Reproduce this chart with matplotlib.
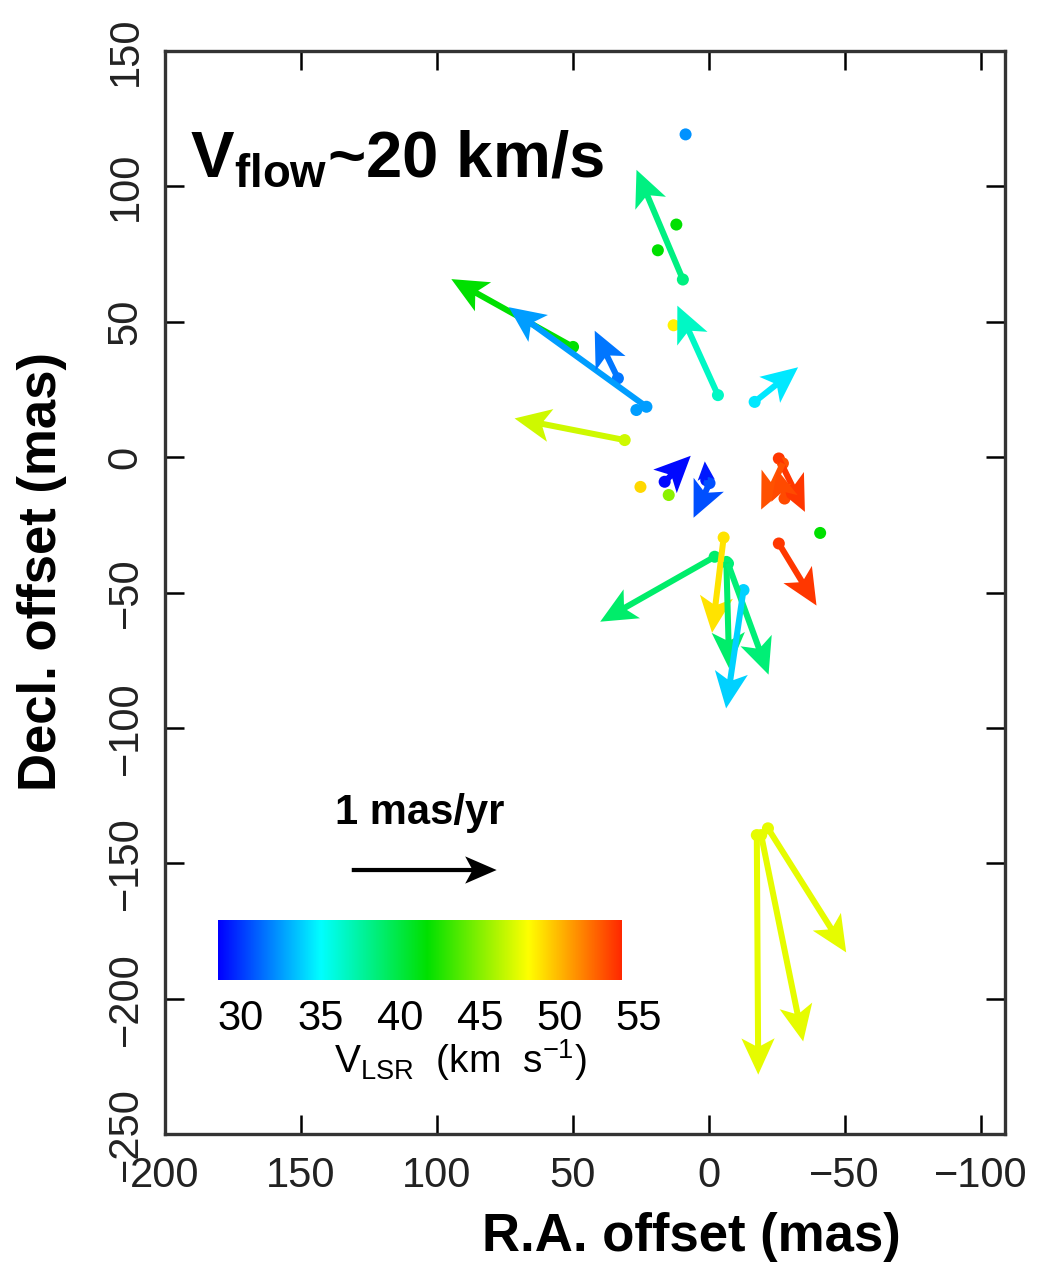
import matplotlib
matplotlib.use('Agg')
import matplotlib.pyplot as plt
import numpy as np
from matplotlib.colors import LinearSegmentedColormap, Normalize
from matplotlib import font_manager

# fonts: narrow face for the axes if it is there
names = {f.name for f in font_manager.fontManager.ttflist}
narrow = 'Liberation Sans Narrow' if 'Liberation Sans Narrow' in names else 'Liberation Sans'
plt.rcParams['font.family'] = ['Liberation Sans', 'DejaVu Sans']
plt.rcParams['mathtext.fontset'] = 'custom'
plt.rcParams['mathtext.rm'] = 'Liberation Sans'
plt.rcParams['mathtext.bf'] = 'Liberation Sans:bold'
plt.rcParams['mathtext.it'] = 'Liberation Sans:italic'

# maser features with proper motions (positions in mas, motions in mas/yr)
ra0 = [9.5, 49.9, 22.9, 33.4, -3.4, -16.9, 30.9, 16.2, 0.9, -0.3, -25.8,
       -27.3, -27.9, -25.8, -5.5, -2.2, -6.5, -7.1, -12.8, -17.7, -19.3, -21.8]
dec0 = [65.6, 40.7, 18.6, 29.1, 22.9, 20.4, 6.3, -9.1, -8.5, -9.6, -0.5,
        -2.3, -15.3, -31.9, -29.7, -36.8, -38.7, -39.3, -49.1, -139.6, -139.6, -137.1]
mu_ra = [0.32, 0.84, 0.95, 0.16, 0.28, -0.30, 0.76, -0.18, 0.01, 0.11, -0.18,
         0.15, 0.05, -0.26, 0.08, 0.79, -0.02, -0.28, 0.12, -0.01, -0.29, -0.54]
mu_dec = [0.76, 0.47, 0.69, 0.33, 0.62, 0.24, 0.15, 0.18, 0.13, -0.24, -0.37,
          -0.32, 0.20, -0.43, -0.66, -0.45, -0.74, -0.77, -0.82, -1.66, -1.43, -0.86]
v_arrow = [38.3, 41.7, 32.6, 31.6, 36.5, 34.5, 46.8, 28.8, 29.2, 30.6, 53.5,
           52.8, 53.0, 53.5, 48.8, 38.9, 38.9, 38.6, 33.9, 47.4, 47.4, 47.4]

# features without a measured motion
spot_ra = [8.5, 11.9, 18.7, 12.9, 25.1, 14.7, -41.0, 26.6]
spot_dec = [119.2, 85.9, 76.4, 48.7, -11.0, -14.0, -28.0, 17.4]
spot_v = [32.3, 41.7, 41.7, 48.4, 49.1, 45.2, 41.7, 32.6]

cbar_ticks = [30, 35, 40, 45, 50, 55]
v_min, v_max = 28.56, 53.93
mas_per_unit = 53.3   # plot length of a 1 mas/yr arrow

cmap = LinearSegmentedColormap.from_list('vlsr', [
    (0.0, (0.0, 0.0, 1.0)),
    (0.254, (0.0, 1.0, 1.0)),
    (0.518, (0.0, 0.88, 0.0)),
    (0.77, (1.0, 1.0, 0.0)),
    (1.0, (1.0, 0.16, 0.0))])
norm = Normalize(v_min, v_max)

fig = plt.figure(figsize=(10.37, 12.62), dpi=100)
ax = fig.add_axes([165/1037, 1-1134/1262, 840/1037, 1083/1262])

ax.scatter(spot_ra, spot_dec, s=75, c=cmap(norm(np.array(spot_v))), linewidths=0, zorder=2)
ax.scatter(ra0, dec0, s=75, c=cmap(norm(np.array(v_arrow))), linewidths=0, zorder=3)
ax.quiver(ra0, dec0, mu_ra, mu_dec, color=cmap(norm(np.array(v_arrow))),
          angles='xy', scale_units='xy', scale=1/mas_per_unit,
          width=0.0072, headwidth=5.5, headlength=6, headaxislength=4.8, zorder=4)

# scale arrow
ax.quiver([131.3], [-152.5], [-1], [0], color='black', angles='xy', scale_units='xy',
          scale=1/mas_per_unit, width=0.005, headwidth=6.5, headlength=7.5,
          headaxislength=6, zorder=4)
ax.text(106.3, -131.5, '1 mas/yr', fontsize=30, fontweight='bold', family=narrow,
        ha='center', va='center')

ax.text(0.030, 0.8835, r'V$_{\mathbf{flow}}$~20 km/s', transform=ax.transAxes,
        fontsize=47, fontweight='bold', va='baseline')

ax.set_xlim(200, -109)
ax.set_ylim(-250, 150)
ax.set_xticks([200, 150, 100, 50, 0, -50, -100])
ax.set_yticks([-250, -200, -150, -100, -50, 0, 50, 100, 150])
ax.tick_params(direction='in', length=14, width=1.8, top=True, right=True,
               labelsize=30, colors='black')
ax.tick_params(axis='x', pad=16)
ax.tick_params(axis='y', pad=14)
for lab in ax.get_xticklabels() + ax.get_yticklabels():
    lab.set_family(narrow)
    lab.set_color('#222222')
for lab in ax.get_yticklabels():
    lab.set_rotation(90)
    lab.set_va('center')
for sp in ax.spines.values():
    sp.set_linewidth(2.4)
    sp.set_color('#333333')

ax.set_xlabel('R.A. offset (mas)', fontsize=38, fontweight='bold', family=narrow)
ax.xaxis.set_label_coords(0.627, -0.072)
ax.set_ylabel('Decl. offset (mas)', fontsize=38, fontweight='bold', family=narrow,
              va='center')
ax.yaxis.set_label_coords(-0.146, 0.519)

# colour bar
cax = fig.add_axes([200/1037, 1-980/1262, 480/1037, 60/1262])
grad = np.linspace(v_min, v_max, 256).reshape(1, -1)
cax.imshow(grad, cmap=cmap, norm=norm, aspect='auto', extent=[v_min, v_max, 0, 1])
cax.set_xlim(27.42, 57.58)
cax.set_ylim(0, 1)
for sp in cax.spines.values():
    sp.set_visible(False)
cax.set_yticks([])
cax.set_xticks(cbar_ticks)
cax.tick_params(axis='x', length=0, pad=14, labelsize=30)
cax.set_xlabel(r'V$_{\rm LSR}$  (km  s$^{-1}$)', fontsize=28)
cax.xaxis.set_label_coords(0.542, -0.95)

fig.savefig('out.png', dpi=100)
